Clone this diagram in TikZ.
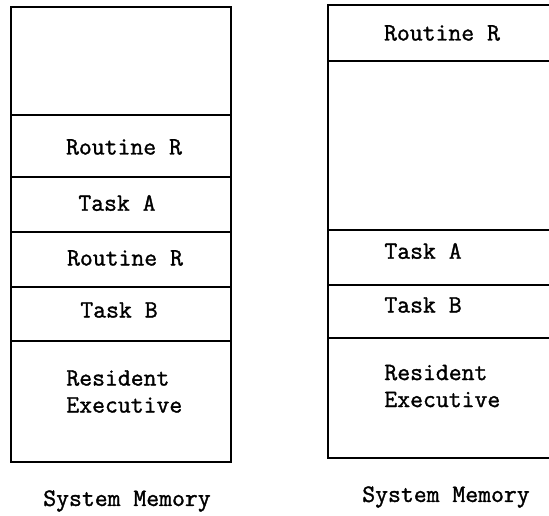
\documentclass[tikz,border=0pt]{standalone}
\usepackage{fontspec}
\newfontfamily\memfont[FakeBold=1.3]{Latin Modern Mono}
\begin{document}
\begin{tikzpicture}[x=0.5pt,y=-0.5pt,
  cell/.style={draw,line width=1pt,inner sep=0pt},
  lbl/.style={font=\memfont\fontsize{12.5}{13.5}\selectfont,inner sep=0pt},
  lblw/.style={lbl,anchor=west,align=left}]
\useasboundingbox (0,0) rectangle (549,515);
\clip (0,0) rectangle (549,515);
% left column
\node[cell,minimum width=110pt,minimum height=54pt] (l1) at (121,61) {};
\node[cell,minimum width=110pt,minimum height=31pt] (l2) at (121,146) {};
\node[cell,minimum width=110pt,minimum height=27.5pt] (l3) at (121,204.5) {};
\node[cell,minimum width=110pt,minimum height=27.5pt] (l4) at (121,259.5) {};
\node[cell,minimum width=110pt,minimum height=27pt] (l5) at (121,314) {};
\node[cell,minimum width=110pt,minimum height=60.5pt] (l6) at (121,401.5) {};
\node[lbl] (t2) at (124,147) {Routine R};
\node[lbl] (t3) at (117,203) {Task A};
\node[lbl] (t4) at (125,258) {Routine R};
\node[lbl] (t5) at (119,310) {Task B};
\node[lblw] (t6) at (66,391.5) {Resident\\Executive};
\node[lbl] (tl) at (127,501) {System Memory};
% right column (cut off by the right edge)
\node[cell,minimum width=113pt,minimum height=28pt] (r1) at (441,33) {};
\node[cell,minimum width=113pt,minimum height=84.5pt] (r2) at (441,145.5) {};
\node[cell,minimum width=113pt,minimum height=27.5pt] (r3) at (441,257.5) {};
\node[cell,minimum width=113pt,minimum height=26.5pt] (r4) at (441,311.5) {};
\node[cell,minimum width=113pt,minimum height=60pt] (r5) at (441,398) {};
\node[lbl] (s1) at (442,33) {Routine R};
\node[lblw] (s3) at (384,251) {Task A};
\node[lblw] (s4) at (384,305) {Task B};
\node[lblw] (s5) at (384,386) {Resident\\Executive};
\node[lbl] (tr) at (446,497) {System Memory};
\end{tikzpicture}
\end{document}
